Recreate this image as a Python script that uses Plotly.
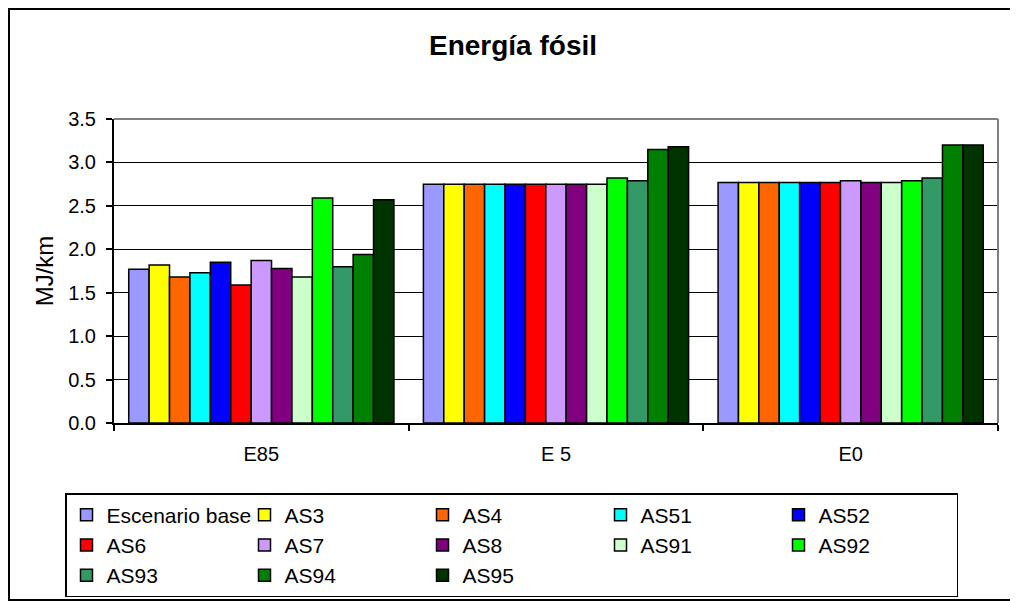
import plotly.graph_objects as go

# Datos (MJ/km)
grupos = ["E85", "E 5", "E0"]
escenarios = ["Escenario base", "AS3", "AS4", "AS51", "AS52", "AS6", "AS7",
              "AS8", "AS91", "AS92", "AS93", "AS94", "AS95"]
colores = ["#9999FF", "#FFFF00", "#FF6600", "#00FFFF", "#0000FF", "#FF0000",
           "#CC99FF", "#800080", "#CCFFCC", "#00FF00", "#339966", "#008000",
           "#003300"]

e85 = [1.77, 1.82, 1.68, 1.73, 1.85, 1.59, 1.87, 1.78, 1.68, 2.59, 1.80, 1.94, 2.57]
e5 = [2.75, 2.75, 2.75, 2.75, 2.75, 2.75, 2.75, 2.75, 2.75, 2.82, 2.79, 3.15, 3.18]
e0 = [2.77, 2.77, 2.77, 2.77, 2.77, 2.77, 2.79, 2.77, 2.77, 2.79, 2.82, 3.20, 3.20]

# la pagina html deja 8 px de margen en el body
OFF = 8
W, H = 1018 - OFF, 601 - OFF
ML, MR, MT, MB = 114 - OFF, 20, 119 - OFF, 178
pw, ph = W - ML - MR, H - MT - MB


def px_x(x):
    # x en pixeles de la ventana -> coordenada paper
    return (x - OFF - ML) / pw


def px_y(y):
    return (H - MB - (y - OFF)) / ph


fig = go.Figure()
for i, nombre in enumerate(escenarios):
    fig.add_trace(go.Bar(
        x=grupos,
        y=[e85[i], e5[i], e0[i]],
        name=nombre,
        marker=dict(color=colores[i], line=dict(color="black", width=1.5))
    ))

fig.update_layout(
    width=W,
    height=H,
    margin=dict(l=ML, r=MR, t=MT, b=MB, autoexpand=False),
    paper_bgcolor="white",
    plot_bgcolor="white",
    barmode="group",
    bargap=0.1,
    bargroupgap=0,
    font=dict(family="Liberation Sans, Arial", size=20, color="black"),
    title=dict(
        text="<b>Energía fósil</b>",
        font=dict(size=28),
        x=(513 - OFF) / W, xref="container", xanchor="center",
        y=1 - (45 - OFF) / H, yref="container", yanchor="middle"
    ),
    xaxis=dict(
        showline=True, linecolor="black", linewidth=2,
        ticks="outside", tickson="boundaries", ticklen=6, tickwidth=1.5,
        tickcolor="black", ticklabelstandoff=12,
        showgrid=False
    ),
    yaxis=dict(
        range=[0, 3.5], dtick=0.5, tickformat=".1f",
        showline=True, linecolor="black", linewidth=2,
        ticks="outside", ticklen=6, tickwidth=1.5, tickcolor="black",
        ticklabelstandoff=6,
        showgrid=True, gridcolor="black", gridwidth=1,
        zeroline=False,
        title=dict(text="MJ/km", standoff=8)
    ),
    legend=dict(
        orientation="h",
        x=px_x(65), xanchor="left",
        y=px_y(493), yanchor="top",
        entrywidth=133, entrywidthmode="pixels",
        bordercolor="black", borderwidth=1.5,
        font=dict(size=21),
        traceorder="normal"
    ),
    shapes=[
        # borde superior y derecho del area de trazado (gris)
        dict(type="line", xref="paper", yref="paper", x0=0, x1=1, y0=1, y1=1,
             line=dict(color="#808080", width=2)),
        dict(type="line", xref="paper", yref="paper", x0=1, x1=1, y0=0, y1=1,
             line=dict(color="#808080", width=2)),
        # borde exterior del grafico
        dict(type="rect", xref="paper", yref="paper",
             x0=px_x(9), x1=px_x(1016), y0=px_y(600), y1=px_y(9),
             line=dict(color="black", width=2))
    ]
)

fig.write_html("out.html")
